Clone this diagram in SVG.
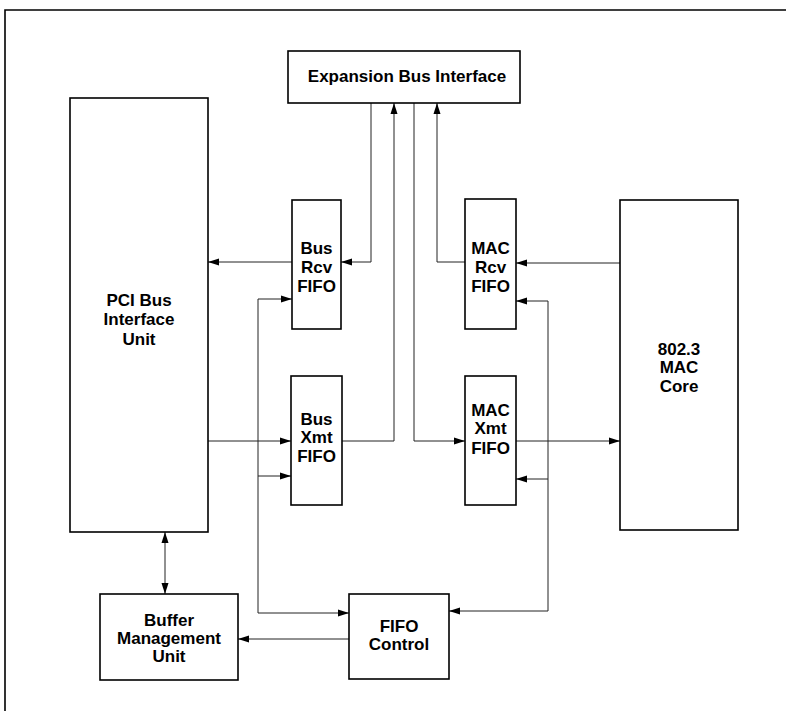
<svg xmlns="http://www.w3.org/2000/svg" width="786" height="711" viewBox="0 0 786 711">
<defs>
<style>
.box{fill:#fff;stroke:#000;stroke-width:1.6}
.t{font-family:"Liberation Sans",Arial,sans-serif;font-weight:bold;font-size:17px;text-anchor:middle;fill:#000}
.c{fill:none;stroke:#222;stroke-width:1}
</style>
<marker id="a" markerUnits="userSpaceOnUse" markerWidth="12" markerHeight="8" refX="11" refY="4" orient="auto">
<path d="M0,0.5 L11,4 L0,7.5 z" fill="#000"/>
</marker>
<marker id="s" markerUnits="userSpaceOnUse" markerWidth="12" markerHeight="8" refX="0" refY="4" orient="auto">
<path d="M11,0.5 L0,4 L11,7.5 z" fill="#000"/>
</marker>
</defs>
<rect width="786" height="711" fill="#fff"/>
<path d="M5,711 V10 H786" fill="none" stroke="#000" stroke-width="1.6"/>

<g id="connectors">
<path class="c" d="M371,103 V262 H341" marker-end="url(#a)"/>
<path class="c" d="M342,441 H394 V103" marker-end="url(#a)"/>
<path class="c" d="M414,103 V441 H465" marker-end="url(#a)"/>
<path class="c" d="M465,262 H437 V103" marker-end="url(#a)"/>
<path class="c" d="M292,262 H208" marker-end="url(#a)"/>
<path class="c" d="M208,441 H291" marker-end="url(#a)"/>
<path class="c" d="M620,263 H516" marker-end="url(#a)"/>
<path class="c" d="M516,441 H620" marker-end="url(#a)"/>
<path class="c" d="M258,613 V299 H292" marker-end="url(#a)"/>
<path class="c" d="M258,476 H291" marker-end="url(#a)"/>
<path class="c" d="M258,613 H349" marker-end="url(#a)"/>
<path class="c" d="M548,611 V301 H516" marker-end="url(#a)"/>
<path class="c" d="M548,479 H516" marker-end="url(#a)"/>
<path class="c" d="M548,611 H449" marker-end="url(#a)"/>
<path class="c" d="M349,639 H238" marker-end="url(#a)"/>
<path class="c" d="M165,532 V594" marker-start="url(#s)" marker-end="url(#a)"/>
</g>

<g id="expansion">
<rect class="box" x="288" y="51" width="232" height="52"/>
<text class="t" x="407" y="82">Expansion Bus Interface</text>
</g>
<g id="pci">
<rect class="box" x="70" y="98" width="138" height="434"/>
<text class="t" x="139" y="306">PCI Bus</text>
<text class="t" x="139" y="325">Interface</text>
<text class="t" x="139" y="345">Unit</text>
</g>
<g id="busrcv">
<rect class="box" x="292" y="200" width="49" height="129"/>
<text class="t" x="316.5" y="254">Bus</text>
<text class="t" x="316.5" y="273">Rcv</text>
<text class="t" x="316.5" y="292">FIFO</text>
</g>
<g id="busxmt">
<rect class="box" x="291" y="376" width="51" height="129"/>
<text class="t" x="316.5" y="425">Bus</text>
<text class="t" x="316.5" y="443">Xmt</text>
<text class="t" x="316.5" y="462">FIFO</text>
</g>
<g id="macrcv">
<rect class="box" x="465" y="199" width="51" height="130"/>
<text class="t" x="490.5" y="254">MAC</text>
<text class="t" x="490.5" y="273">Rcv</text>
<text class="t" x="490.5" y="292">FIFO</text>
</g>
<g id="macxmt">
<rect class="box" x="465" y="376" width="51" height="129"/>
<text class="t" x="490.5" y="416">MAC</text>
<text class="t" x="490.5" y="434">Xmt</text>
<text class="t" x="490.5" y="454">FIFO</text>
</g>
<g id="maccore">
<rect class="box" x="620" y="200" width="118" height="330"/>
<text class="t" x="679" y="355">802.3</text>
<text class="t" x="679" y="373">MAC</text>
<text class="t" x="679" y="392">Core</text>
</g>
<g id="buffer">
<rect class="box" x="100" y="594" width="138" height="86"/>
<text class="t" x="169" y="626">Buffer</text>
<text class="t" x="169" y="644">Management</text>
<text class="t" x="169" y="662">Unit</text>
</g>
<g id="fifocontrol">
<rect class="box" x="349" y="594" width="100" height="85"/>
<text class="t" x="399" y="632">FIFO</text>
<text class="t" x="399" y="650">Control</text>
</g>
</svg>
